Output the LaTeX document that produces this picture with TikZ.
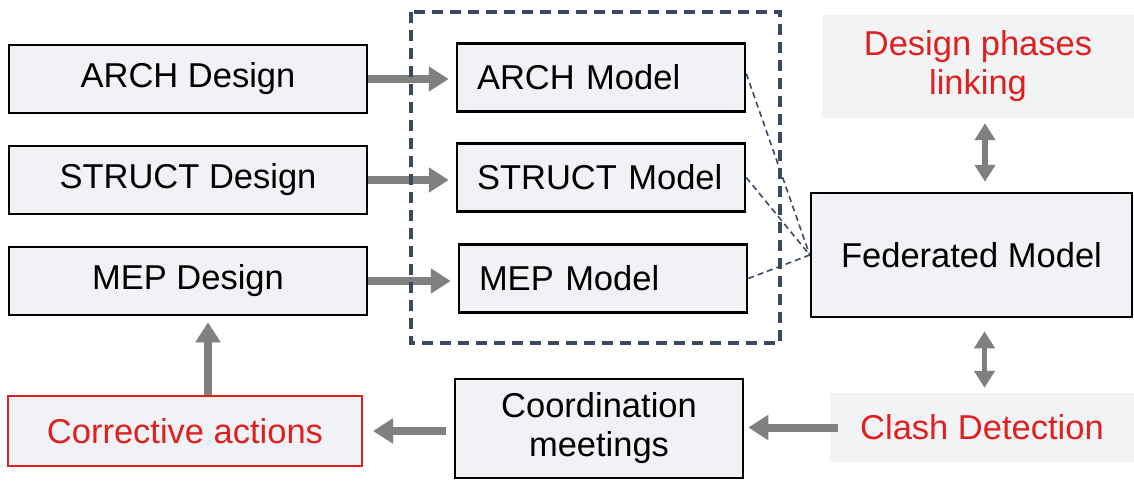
\documentclass[tikz,border=0pt]{standalone}
\usepackage{fontspec}
\setmainfont{Liberation Sans}
\usetikzlibrary{arrows.meta}
\definecolor{boxfill}{HTML}{F1F2F5}
\definecolor{panelfill}{HTML}{F2F3F5}
\definecolor{slate}{HTML}{3A4A63}
\definecolor{flowgray}{HTML}{808080}
\definecolor{alertred}{HTML}{E0201F}
\tikzset{
  box/.style={draw=black, line width=2.5pt, fill=boxfill, inner sep=0pt,
    minimum height=68pt, font=\fontsize{34.5}{39}\selectfont, align=center},
  designbox/.style={box, minimum width=358pt},
  modelbox/.style={box, text width=248pt, align=left, inner xsep=20pt},
  panel/.style={fill=panelfill, inner sep=0pt, text=alertred,
    font=\fontsize{34.5}{39}\selectfont, align=center},
  redbox/.style={panel, draw=alertred, line width=2pt, fill=boxfill},
  flow/.style={flowgray, line width=8pt, -{Triangle[width=24pt,length=20pt]}},
  both/.style={flowgray, line width=5.5pt,
    {Triangle[width=20pt,length=17pt]}-{Triangle[width=20pt,length=17pt]}},
  group/.style={slate, line width=3.2pt, dash pattern=on 11pt off 7pt},
  link/.style={slate, line width=1.6pt, dash pattern=on 6pt off 4pt}
}
\begin{document}
\begin{tikzpicture}[x=1pt, y=-1pt]
  \useasboundingbox (0,0) rectangle (1134,480);
  % design sources
  \node[designbox] (ad) at (188,79) {ARCH Design};
  \node[designbox] (sd) at (188,180) {STRUCT Design};
  \node[designbox] (md) at (188,281) {MEP Design};
  % discipline models
  \node[modelbox] (am) at (601,77.5) {ARCH Model};
  \node[modelbox] (sm) at (601,177.5) {STRUCT Model};
  \node[modelbox] (mm) at (603,278.5) {MEP Model};
  \node[box, minimum width=321pt, minimum height=124pt] (fm) at (971.5,255) {Federated Model};
  \node[panel, minimum width=312pt, minimum height=103pt] (dp) at (978,66.5) {Design phases\\linking};
  \node[panel, minimum width=304pt, minimum height=69pt] (cd) at (982,427.5) {Clash Detection};
  \node[box, minimum width=288pt, minimum height=99pt] (cm) at (599,428.5) {Coordination\\meetings};
  \node[redbox, minimum width=354pt, minimum height=70pt] (ca) at (185,431) {Corrective actions};

  \draw[flow, shorten >=7pt] (ad.east) -- (ad.east -| am.west);
  \draw[flow, shorten >=7pt] (sd.east) -- (sd.east -| sm.west);
  \draw[flow, shorten >=7pt] (md.east) -- (md.east -| mm.west);
  \draw[both, shorten <=5pt, shorten >=10pt] ([xshift=7pt]dp.south) -- ([xshift=7pt]dp.south |- fm.north);
  \draw[both, shorten <=13pt, shorten >=5pt] ([xshift=13pt]fm.south) -- ([xshift=13pt]fm.south |- cd.north);
  \draw[flow, shorten <=-8pt, shorten >=4pt] (cd.west) -- (cd.west -| cm.east);
  \draw[flow, shorten <=8pt, shorten >=10pt] (cm.west |- ca.east) -- (ca.east);
  \draw[flow, shorten >=6pt] ([xshift=23pt]ca.north) -- ([xshift=23pt]ca.north |- md.south);

  % model group
  \draw[group] (411,12) rectangle (780,343);
  \draw[link] ([yshift=4pt]am.east) -- (fm.west);
  \draw[link] (sm.east) -- (fm.west);
  \draw[link] (mm.east) -- (fm.west);
\end{tikzpicture}
\end{document}
